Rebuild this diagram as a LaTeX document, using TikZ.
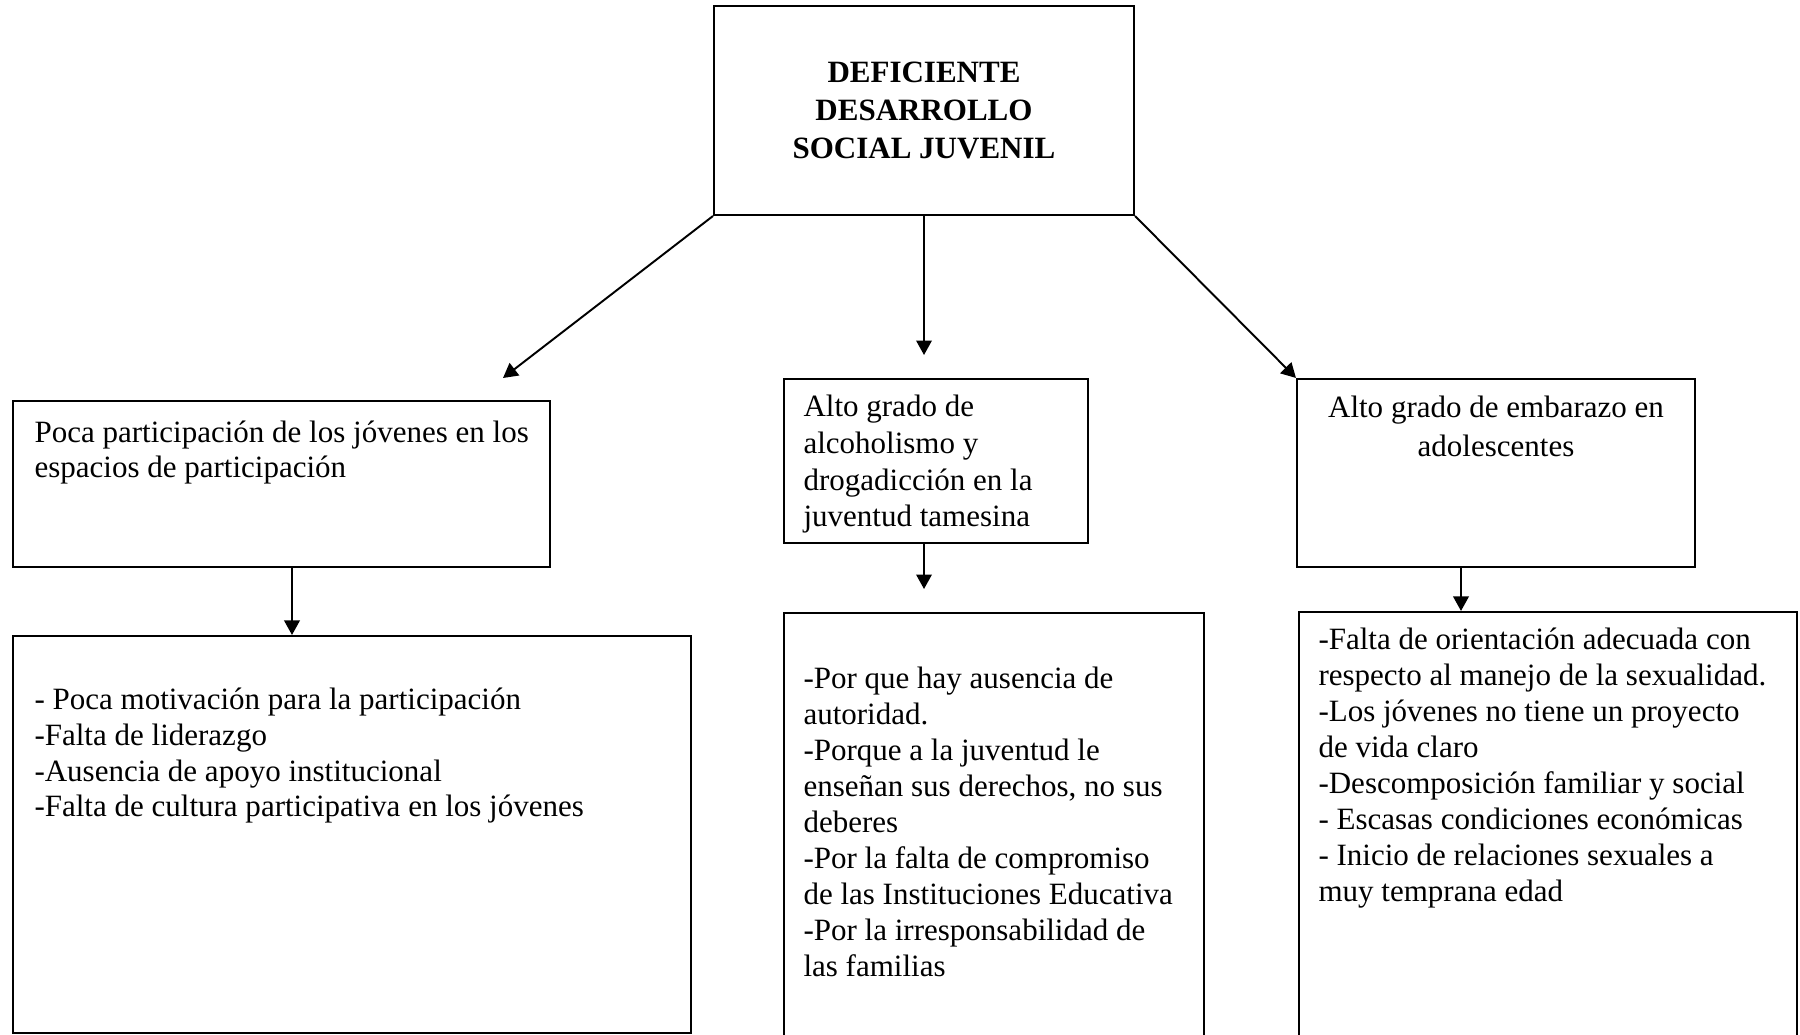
\documentclass[tikz,border=0pt]{standalone}
\usepackage{fontspec}
\setmainfont{Liberation Serif}
\usepackage{tikz}
\usetikzlibrary{arrows.meta,fit,calc}

\begin{document}
\begin{tikzpicture}[x=0.387pt,y=-0.387pt,
    box/.style={draw,line width=0.8pt,inner sep=0pt},
    txt/.style={inner sep=0pt,align=left,font=\fontsize{12}{13.9}\selectfont},
    title/.style={inner sep=0pt,align=center,font=\fontsize{12}{14.7}\selectfont\bfseries},
    arr/.style={line width=0.75pt,-{Triangle[length=5.6pt,width=6pt]}}]
    \useasboundingbox (0,0) rectangle (1800,1035);
    % problema central
    \node[box,fit={(714,6) (1134,215)}] (effect) {};
    \node[title] (effect-txt) at (effect.center) {DEFICIENTE\\DESARROLLO\\SOCIAL JUVENIL};
    % causas (anclado en la linea base de la ultima linea)
    \node[box,fit={(13,401) (550,567)}] (lcause) {};
    \node[txt,anchor=base west] (lcause-txt) at (34,478)
      {Poca participación de los jóvenes en los\\espacios de participación};
    \node[box,fit={(784,379) (1088,543)}] (mcause) {};
    \node[txt,anchor=base west,font=\fontsize{12}{14.2}\selectfont] (mcause-txt) at (803,527)
      {Alto grado de\\alcoholismo y\\drogadicción en la\\juventud tamesina};
    \node[box,fit={(1297,379) (1695,567)}] (rcause) {};
    \node[txt,align=center,anchor=base,font=\fontsize{12}{15.2}\selectfont] (rcause-txt) at (1496,457)
      {Alto grado de embarazo en\\adolescentes};
    % subcausas
    \node[box,fit={(13,636) (691,1033)}] (lcons) {};
    \node[txt,anchor=base west] (lcons-txt) at (34,817)
      {- Poca motivación para la participación\\-Falta de liderazgo\\-Ausencia de apoyo institucional\\-Falta de cultura participativa en los jóvenes};
    \node[box,fit={(784,613) (1204,1060)}] (mcons) {};
    \node[txt,anchor=base west] (mcons-txt) at (803,976)
      {-Por que hay ausencia de\\autoridad.\\-Porque a la juventud le\\enseñan sus derechos, no sus\\deberes\\-Por la falta de compromiso\\de las Instituciones Educativa\\-Por la irresponsabilidad de\\las familias};
    \node[box,fit={(1299,612) (1797,1060)}] (rcons) {};
    \node[txt,anchor=base west] (rcons-txt) at (1318,901)
      {-Falta de orientación adecuada con\\respecto al manejo de la sexualidad.\\-Los jóvenes no tiene un proyecto\\de vida claro\\-Descomposición familiar y social\\- Escasas condiciones económicas\\- Inicio de relaciones sexuales a\\muy temprana edad};
    % flechas
    \coordinate (tipL) at (503,378);
    \coordinate (tipM) at (924,355);
    \coordinate (lx) at (292,0);
    \coordinate (mx) at (924,589);
    \coordinate (rx) at (1461,0);
    \draw[arr] (effect.south west) -- (tipL);
    \draw[arr] (effect.south -| tipM) -- (tipM);
    \draw[arr] (effect.south east) -- (rcause.north west);
    \draw[arr] (lcause.south -| lx) -- (lcons.north -| lx);
    \draw[arr] (mcause.south -| mx) -- (mx);
    \draw[arr] (rcause.south -| rx) -- (rcons.north -| rx);
\end{tikzpicture}
\end{document}
